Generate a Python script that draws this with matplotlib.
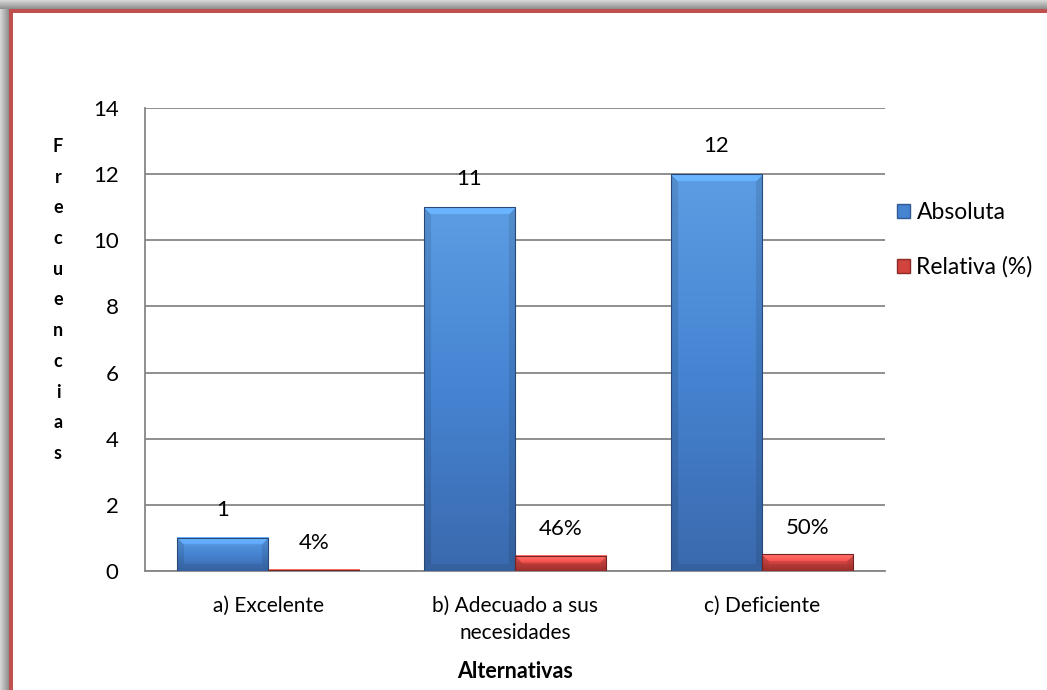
import numpy as np
import matplotlib
matplotlib.use("Agg")
import matplotlib.pyplot as plt
from matplotlib.patches import Rectangle

plt.rcParams['font.family'] = ['Lato', 'DejaVu Sans']

categorias = ['a) Excelente', 'b) Adecuado a sus\nnecesidades', 'c) Deficiente']
absoluta = [1, 11, 12]
relativa = [0.04, 0.46, 0.50]
etiquetas_abs = ['1', '11', '12']
etiquetas_rel = ['4%', '46%', '50%']
yticks = [0, 2, 4, 6, 8, 10, 12, 14]

W, H, DPI = 1047, 690, 100
fig = plt.figure(figsize=(W / DPI, H / DPI), dpi=DPI)
fig.patch.set_facecolor('white')

# sombra gris y borde rojo del recuadro
bg = fig.add_axes([0, 0, 1, 1], zorder=-5)
bg.set_xlim(0, W)
bg.set_ylim(H, 0)
bg.axis('off')
sh = 9
grad = np.linspace(0.85, 0.55, 40)
bg.imshow(np.tile(grad, (2, 1)), cmap='gray', vmin=0, vmax=1,
          extent=(0, sh, H, 0), aspect='auto', interpolation='bilinear')
bg.imshow(np.tile(grad, (2, 1)).T, cmap='gray', vmin=0, vmax=1,
          extent=(0, W, sh, 0), aspect='auto', interpolation='bilinear')
bg.add_patch(Rectangle((sh, sh), W, 4, color='#c0504d', lw=0))
bg.add_patch(Rectangle((sh, sh), 4, H, color='#c0504d', lw=0))

ax = fig.add_axes([145 / W, 119 / H, 740 / W, 463 / H])
x = np.arange(len(categorias))
bw = 0.369


def bevel_bar(ax, x0, w, h, top, mid, bot):
    """Barra con degradado vertical y biselado en los bordes."""
    p0 = ax.transData.transform((x0, 0))
    p1 = ax.transData.transform((x0 + w, h))
    nx = max(int(round(p1[0] - p0[0])), 2)
    ny = max(int(round(p1[1] - p0[1])), 2)
    t = np.linspace(0, 1, ny)[:, None]
    top, mid, bot = (np.array(matplotlib.colors.to_rgb(c)) for c in (top, mid, bot))
    col = np.where(t[..., None] < 0.5,
                   top + (mid - top) * (t[..., None] / 0.5),
                   mid + (bot - mid) * ((t[..., None] - 0.5) / 0.5))
    img = np.repeat(col, nx, axis=1)
    b = min(7, ny // 2, nx // 2)
    yy, xx = np.mgrid[0:ny, 0:nx]
    dl, dr, dt, db = xx, nx - 1 - xx, yy, ny - 1 - yy
    dmin = np.minimum.reduce([dl, dr, dt, db])
    edge = dmin < b
    factor = np.ones((ny, nx))
    factor[edge & (dt == dmin)] = 1.15
    factor[edge & ((dl == dmin) | (dr == dmin)) & (dt != dmin)] = 0.9
    factor[edge & (db == dmin) & (dt != dmin)] = 0.92
    img = np.clip(img * factor[..., None], 0, 1)
    ax.imshow(img, extent=(x0, x0 + w, 0, h), origin='upper',
              aspect='auto', interpolation='bilinear', zorder=3)
    ax.add_patch(Rectangle((x0, 0), w, h, fill=False, lw=0.8,
                           ec=tuple(bot * 0.7), zorder=4))


ax.set_xlim(-0.5, len(categorias) - 0.5)
ax.set_ylim(0, 14)

for i in range(len(categorias)):
    bevel_bar(ax, x[i] - bw, bw, absoluta[i], '#5c9de3', '#4684d2', '#3a69ad')
    bevel_bar(ax, x[i], bw, relativa[i], '#e8615c', '#d0433f', '#a83330')
    ax.annotate(etiquetas_abs[i], (x[i] - bw / 2, absoluta[i]), xytext=(0, 20),
                textcoords='offset points', ha='center', va='center', fontsize=16)
    ax.annotate(etiquetas_rel[i], (x[i] + bw / 2, relativa[i]), xytext=(0, 19),
                textcoords='offset points', ha='center', va='center', fontsize=16)

ax.set_yticks(yticks)
ax.set_yticklabels([str(v) for v in yticks], fontsize=16)
ax.set_xticks(x)
ax.set_xticklabels(categorias, fontsize=15, linespacing=1.45)
ax.tick_params(axis='both', length=0)
ax.tick_params(axis='y', pad=19)
ax.tick_params(axis='x', pad=18)
ax.grid(axis='y', color='#868686', lw=1.3, zorder=0)
ax.set_axisbelow(True)
for s in ['top', 'right']:
    ax.spines[s].set_visible(False)
for s in ['left', 'bottom']:
    ax.spines[s].set_color('#868686')
    ax.spines[s].set_linewidth(1.3)

ax.set_xlabel('Alternativas', fontsize=15.5, fontweight='bold', labelpad=13)
fig.text(58 / W, 1 - 300 / H, '\n'.join('Frecuencias'), ha='center', va='center',
         fontsize=13, fontweight='bold', linespacing=1.98)

# leyenda
h_abs = Rectangle((0, 0), 1, 1, fc='#4684d2', ec='#2f5a94')
h_rel = Rectangle((0, 0), 1, 1, fc='#d0433f', ec='#8e2a28')
ax.legend([h_abs, h_rel], ['Absoluta', 'Relativa (%)'], loc='upper left',
          bbox_to_anchor=(897 / W, 1 - 202 / H), bbox_transform=fig.transFigure,
          frameon=False, fontsize=16.5, handlelength=0.55, handleheight=0.55,
          handletextpad=0.3, labelspacing=1.45, borderaxespad=0, borderpad=0)

fig.savefig('out.png', dpi=DPI)
